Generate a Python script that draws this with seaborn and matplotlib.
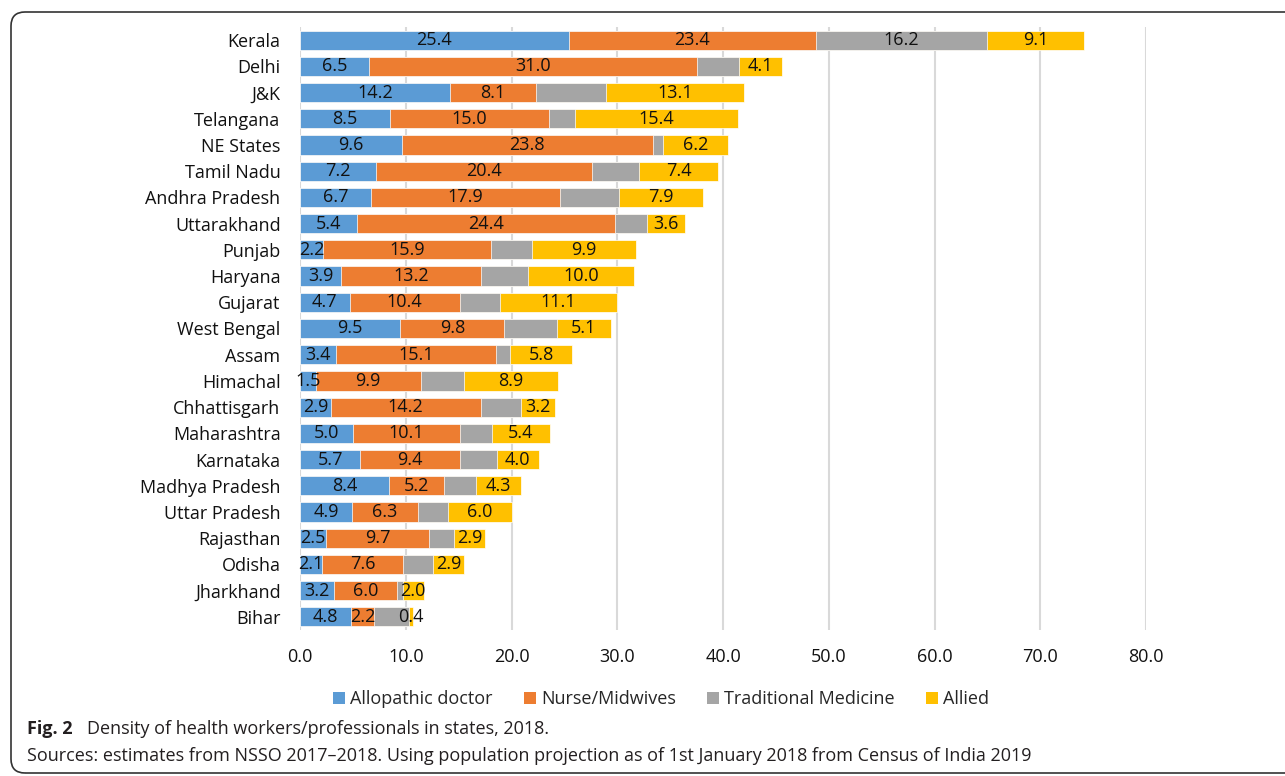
import numpy as np
import pandas as pd
import matplotlib
matplotlib.use("Agg")
import matplotlib.pyplot as plt
from matplotlib.patches import Patch, FancyBboxPatch
from matplotlib.transforms import IdentityTransform
import seaborn as sns

# valores (densidade por 10.000 habitantes)
states = ["Kerala", "Delhi", "J&K", "Telangana", "NE States", "Tamil Nadu",
          "Andhra Pradesh", "Uttarakhand", "Punjab", "Haryana", "Gujarat",
          "West Bengal", "Assam", "Himachal", "Chhattisgarh", "Maharashtra",
          "Karnataka", "Madhya Pradesh", "Uttar Pradesh", "Rajasthan", "Odisha",
          "Jharkhand", "Bihar"]
allopathic = [25.4, 6.5, 14.2, 8.5, 9.6, 7.2, 6.7, 5.4, 2.2, 3.9, 4.7, 9.5,
              3.4, 1.5, 2.9, 5.0, 5.7, 8.4, 4.9, 2.5, 2.1, 3.2, 4.8]
nurse = [23.4, 31.0, 8.1, 15.0, 23.8, 20.4, 17.9, 24.4, 15.9, 13.2, 10.4, 9.8,
         15.1, 9.9, 14.2, 10.1, 9.4, 5.2, 6.3, 9.7, 7.6, 6.0, 2.2]
traditional = [16.2, 4.0, 6.6, 2.5, 0.9, 4.5, 5.6, 3.0, 3.8, 4.5, 3.8, 5.0,
               1.4, 4.1, 3.8, 3.1, 3.5, 3.0, 2.8, 2.4, 2.9, 0.5, 3.3]
allied = [9.1, 4.1, 13.1, 15.4, 6.2, 7.4, 7.9, 3.6, 9.9, 10.0, 11.1, 5.1,
          5.8, 8.9, 3.2, 5.4, 4.0, 4.3, 6.0, 2.9, 2.9, 2.0, 0.4]
trad_label_states = ["Kerala"]  # so Kerala tem rotulo no cinza

series = ["Allopathic doctor", "Nurse/Midwives", "Traditional Medicine", "Allied"]
cores = ["#5B9BD5", "#ED7D31", "#A5A5A5", "#FFC000"]
xticks = [0, 10, 20, 30, 40, 50, 60, 70, 80]

df = pd.DataFrame({"state": states, series[0]: allopathic, series[1]: nurse,
                   series[2]: traditional, series[3]: allied})
cum = df[series].cumsum(axis=1)

sns.set_theme(style="white")
plt.rcParams["font.family"] = ["Open Sans", "DejaVu Sans"]

fig = plt.figure(figsize=(12.85, 7.76), dpi=100)
ax = fig.add_axes([300 / 1285, 1 - 630 / 776, 846 / 1285, 603 / 776])

# empilhado: desenha do total para o menor
for s, c in zip(series[::-1], cores[::-1]):
    sns.barplot(x=cum[s], y=df["state"], color=c, orient="h", width=0.73,
                saturation=1, errorbar=None, edgecolor="white", linewidth=0.5,
                ax=ax)

# rotulos dos segmentos
for i, st in enumerate(states):
    for j, s in enumerate(series):
        if s == "Traditional Medicine" and st not in trad_label_states:
            continue
        v = df.loc[i, s]
        meio = cum.loc[i, s] - v / 2
        ax.text(meio, i, f"{v:.1f}", ha="center", va="center",
                fontsize=13, color="#111111")

ax.set_xlim(0, 80)
ax.set_xticks(xticks)
ax.set_xticklabels([f"{t:.1f}" for t in xticks])
ax.set_xlabel("")
ax.set_ylabel("")
ax.grid(axis="x", color="#d9d9d9", linewidth=1.5)
ax.grid(axis="y", visible=False)
ax.set_axisbelow(True)
for sp in ax.spines.values():
    sp.set_visible(False)
ax.tick_params(axis="both", length=0, labelsize=13, colors="#111111")
ax.tick_params(axis="y", pad=14)
ax.tick_params(axis="x", pad=13)

handles = [Patch(facecolor=c, edgecolor="none") for c in cores]
fig.legend(handles, series, loc="center", bbox_to_anchor=(661 / 1285, 1 - 699 / 776),
           ncol=4, frameon=False, fontsize=13, handlelength=0.67, handleheight=0.67,
           handletextpad=0.3, columnspacing=1.7)

# moldura arredondada
moldura = FancyBboxPatch((11, 3), 1400, 761, boxstyle="round,pad=0,rounding_size=14",
                         transform=IdentityTransform(), facecolor="none",
                         edgecolor="#333333", linewidth=1.2)
fig.add_artist(moldura)

fig.text(27 / 1285, 1 - 729 / 776, "Fig. 2", fontsize=13, weight="bold",
         va="center", color="#231f20")
fig.text(87 / 1285, 1 - 729 / 776,
         "Density of health workers/professionals in states, 2018.",
         fontsize=13, va="center", color="#231f20")
fig.text(27 / 1285, 1 - 756 / 776,
         "Sources: estimates from NSSO 2017\u20132018. Using population projection as of 1st January 2018 from Census of India 2019",
         fontsize=13, va="center", color="#231f20")

fig.savefig("out.png", dpi=100)
